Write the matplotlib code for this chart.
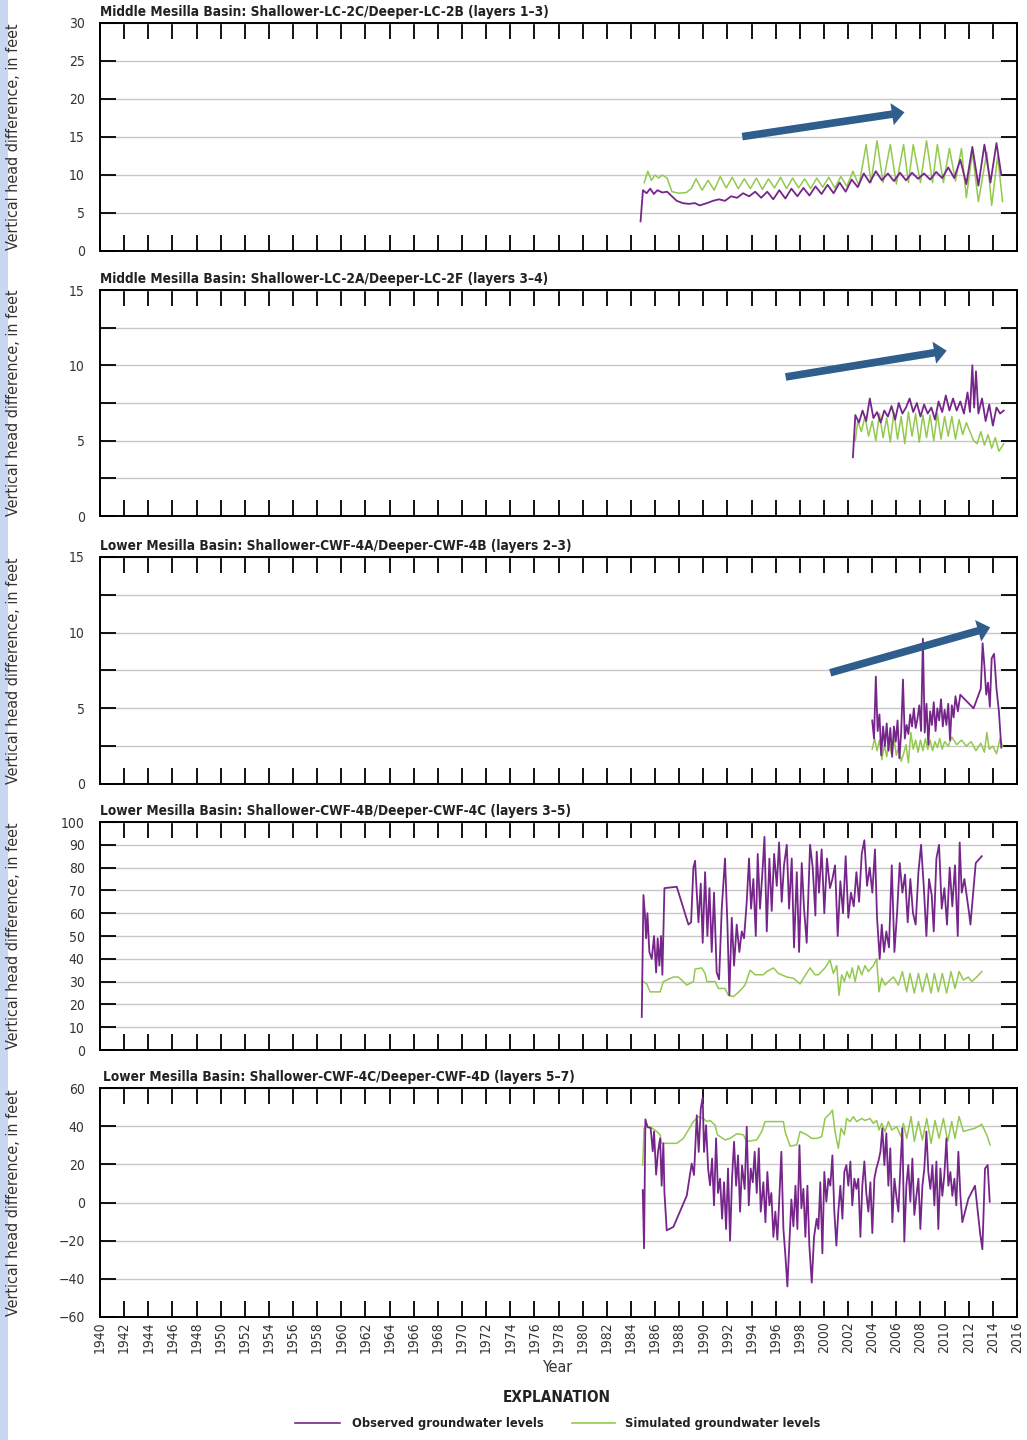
import matplotlib
matplotlib.use("Agg")
import matplotlib.pyplot as plt
from matplotlib.patches import Rectangle
import numpy as np

plt.rcParams['font.family'] = ['DejaVu Sans']
plt.rcParams['font.stretch'] = 'condensed'

OBS_COLOR = '#76268a'
SIM_COLOR = '#93c94e'
ARROW_COLOR = '#2f5d8c'

year_ticks = list(range(1940, 2017, 2))

# ---- panel 1: Middle Mesilla LC-2C / LC-2B
p1_title = "Middle Mesilla Basin: Shallower-LC-2C/Deeper-LC-2B (layers 1\u20133)"
p1_obs_years = [1984.8, 1985.0, 1985.3, 1985.6, 1985.9, 1986.2, 1986.6, 1987.0, 1987.4, 1987.8,
                1988.3, 1988.8, 1989.3, 1989.7, 1990.3, 1990.8, 1991.3, 1991.8, 1992.3, 1992.8,
                1993.3, 1993.8, 1994.3, 1994.8, 1995.3, 1995.8, 1996.3, 1996.8, 1997.3, 1997.8,
                1998.3, 1998.8, 1999.3, 1999.8, 2000.3, 2000.8, 2001.3, 2001.8, 2002.3, 2002.8,
                2003.3, 2003.8, 2004.3, 2004.8, 2005.3, 2005.8, 2006.3, 2006.8, 2007.3, 2007.8,
                2008.3, 2008.8, 2009.3, 2009.8, 2010.3, 2010.8, 2011.3, 2011.8, 2012.3, 2012.8,
                2013.3, 2013.8, 2014.3, 2014.7]
p1_obs_vals = [3.9, 8.0, 7.6, 8.2, 7.5, 8.0, 7.7, 7.8, 7.2, 6.6,
               6.3, 6.2, 6.3, 6.0, 6.3, 6.6, 6.8, 6.6, 7.2, 7.0,
               7.6, 7.2, 7.8, 7.0, 7.8, 6.8, 8.0, 6.9, 8.2, 7.2,
               8.3, 7.3, 8.5, 7.5, 8.7, 7.6, 9.0, 7.8, 9.4, 8.4,
               10.2, 9.0, 10.5, 9.3, 10.2, 9.2, 10.3, 9.3, 10.3, 9.5,
               10.2, 9.4, 10.4, 9.6, 11.0, 9.6, 12.0, 8.8, 13.7, 8.6,
               14.0, 9.0, 14.2, 10.0]
p1_sim_years = [1985.1, 1985.4, 1985.7, 1986.0, 1986.3, 1986.6, 1987.0, 1987.4, 1988.0, 1988.6,
                1989.0, 1989.4, 1989.9, 1990.4, 1990.9, 1991.4, 1991.9, 1992.4, 1992.9, 1993.4,
                1993.9, 1994.4, 1994.9, 1995.4, 1995.9, 1996.4, 1996.9, 1997.4, 1997.9, 1998.4,
                1998.9, 1999.4, 1999.9, 2000.4, 2000.9, 2001.4, 2001.9, 2002.4, 2002.9, 2003.5,
                2003.9, 2004.4, 2004.9, 2005.5, 2006.0, 2006.6, 2007.0, 2007.4, 2008.0, 2008.5,
                2009.0, 2009.4, 2009.9, 2010.4, 2010.9, 2011.4, 2011.8, 2012.3, 2012.8, 2013.5,
                2013.9, 2014.4, 2014.8]
p1_sim_vals = [9.0, 10.5, 9.3, 10.0, 9.6, 10.0, 9.6, 7.8, 7.6, 7.7,
               8.2, 9.5, 8.0, 9.3, 8.0, 9.8, 8.3, 9.7, 8.2, 9.5,
               8.2, 9.6, 8.1, 9.5, 8.3, 9.7, 8.2, 9.6, 8.3, 9.5,
               8.2, 9.6, 8.4, 9.7, 8.3, 9.8, 8.5, 10.5, 8.6, 14.0,
               9.0, 14.5, 9.0, 14.0, 8.8, 14.0, 9.0, 14.0, 9.0, 14.5,
               9.0, 14.0, 9.0, 13.5, 9.2, 13.5, 7.0, 13.0, 6.5, 13.0,
               6.0, 12.5, 6.5]

# ---- panel 2: Middle Mesilla LC-2A / LC-2F
p2_title = "Middle Mesilla Basin: Shallower-LC-2A/Deeper-LC-2F (layers 3\u20134)"
p2_obs_years = [2002.4, 2002.6, 2002.9, 2003.2, 2003.5, 2003.8, 2004.1, 2004.4, 2004.7, 2005.0,
                2005.3, 2005.6, 2005.9, 2006.2, 2006.5, 2006.8, 2007.1, 2007.4, 2007.7, 2008.0,
                2008.3, 2008.6, 2008.9, 2009.2, 2009.5, 2009.8, 2010.1, 2010.4, 2010.7, 2011.0,
                2011.3, 2011.6, 2011.9, 2012.1, 2012.3, 2012.45, 2012.6, 2012.8, 2013.1, 2013.4,
                2013.7, 2014.0, 2014.3, 2014.6, 2014.9]
p2_obs_vals = [3.9, 6.7, 6.2, 7.0, 6.3, 7.8, 6.5, 6.9, 6.2, 7.0,
               6.6, 7.3, 6.4, 7.5, 6.8, 7.2, 7.8, 6.9, 7.5, 6.6,
               7.4, 6.8, 7.2, 6.4, 7.6, 6.9, 8.0, 7.0, 7.8, 7.0,
               7.6, 6.8, 8.2, 6.9, 10.0, 7.2, 9.6, 6.8, 7.8, 6.3,
               7.4, 6.0, 7.2, 6.8, 7.0]
p2_sim_years = [2002.6, 2002.8, 2003.1, 2003.4, 2003.7, 2004.0, 2004.3, 2004.6, 2004.9, 2005.2,
                2005.5, 2005.8, 2006.1, 2006.4, 2006.7, 2007.0, 2007.3, 2007.6, 2007.9, 2008.2,
                2008.5, 2008.8, 2009.1, 2009.4, 2009.7, 2010.0, 2010.3, 2010.6, 2010.9, 2011.2,
                2011.5, 2011.8, 2012.1, 2012.4, 2012.7, 2013.0, 2013.3, 2013.6, 2013.9, 2014.2,
                2014.5, 2014.9]
p2_sim_vals = [5.0, 6.3, 5.6, 6.6, 5.3, 6.3, 5.0, 6.8, 5.2, 6.5,
               4.9, 6.9, 5.1, 6.6, 4.8, 6.9, 5.3, 6.8, 4.9, 6.7,
               5.2, 6.7, 5.0, 6.8, 5.1, 6.6, 5.3, 6.6, 5.1, 6.4,
               5.4, 6.2, 5.6, 5.0, 4.8, 5.6, 4.7, 5.4, 4.5, 5.2,
               4.3, 4.8]

# ---- panel 3: Lower Mesilla CWF-4A / CWF-4B
p3_title = "Lower Mesilla Basin: Shallower-CWF-4A/Deeper-CWF-4B (layers 2\u20133)"
p3_obs_years = [2004.0, 2004.15, 2004.3, 2004.45, 2004.6, 2004.75, 2004.9, 2005.05, 2005.2, 2005.35,
                2005.5, 2005.65, 2005.8, 2005.95, 2006.1, 2006.25, 2006.4, 2006.55, 2006.7, 2006.85,
                2007.0, 2007.15, 2007.3, 2007.45, 2007.6, 2007.75, 2007.9, 2008.05, 2008.2, 2008.35,
                2008.5, 2008.65, 2008.8, 2008.95, 2009.1, 2009.25, 2009.4, 2009.55, 2009.7, 2009.85,
                2010.0, 2010.15, 2010.3, 2010.45, 2010.6, 2010.75, 2010.9, 2011.1, 2011.3, 2012.4,
                2013.0, 2013.15, 2013.3, 2013.45, 2013.6, 2013.75, 2013.9, 2014.1, 2014.3, 2014.5,
                2014.7]
p3_obs_vals = [4.2, 3.0, 7.1, 3.5, 4.6, 1.9, 3.8, 2.5, 4.0, 2.2,
               3.7, 1.8, 3.8, 2.8, 4.2, 1.7, 3.4, 6.9, 3.0, 3.9,
               3.3, 4.6, 3.8, 5.0, 3.7, 4.3, 5.2, 3.5, 9.6, 3.4,
               5.3, 2.6, 4.8, 3.9, 5.4, 3.5, 5.0, 4.2, 5.6, 3.8,
               4.9, 3.9, 5.3, 2.9, 5.2, 4.4, 5.8, 4.8, 5.9, 5.0,
               6.3, 9.3, 7.8, 5.9, 6.7, 5.1, 8.3, 8.6, 6.3, 4.8,
               2.4]
p3_sim_years = [2004.0, 2004.2, 2004.4, 2004.6, 2004.8, 2005.0, 2005.2, 2005.4, 2005.6, 2005.8,
                2006.0, 2006.2, 2006.4, 2006.6, 2006.8, 2007.0, 2007.2, 2007.4, 2007.6, 2007.8,
                2008.0, 2008.2, 2008.4, 2008.6, 2008.8, 2009.0, 2009.2, 2009.4, 2009.6, 2009.8,
                2010.0, 2010.3, 2010.6, 2011.0, 2011.4, 2011.8, 2012.2, 2012.6, 2013.0, 2013.3,
                2013.5, 2013.7, 2014.0, 2014.3, 2014.6, 2014.8]
p3_sim_vals = [2.3, 3.0, 2.2, 2.9, 1.6, 2.6, 1.8, 2.9, 2.0, 3.0,
               1.9, 2.5, 1.5, 2.0, 2.6, 1.4, 3.4, 2.3, 2.9, 2.1,
               2.9, 2.2, 3.0, 2.3, 2.9, 2.2, 2.8, 2.4, 3.0, 2.3,
               2.8, 2.5, 3.1, 2.6, 2.9, 2.5, 2.8, 2.2, 2.7, 2.1,
               3.4, 2.3, 2.5, 2.0, 3.0, 2.5]

# ---- panel 4: Lower Mesilla CWF-4B / CWF-4C
p4_title = "Lower Mesilla Basin: Shallower-CWF-4B/Deeper-CWF-4C (layers 3\u20135)"
p4_obs_years = [1984.90, 1985.04, 1985.17, 1985.26, 1985.37, 1985.53, 1985.73, 1985.92, 1986.09, 1986.22,
                1986.36, 1986.50, 1986.61, 1986.78, 1987.80, 1988.77, 1988.99, 1989.18, 1989.32, 1989.46,
                1989.60, 1989.79, 1989.95, 1990.15, 1990.34, 1990.51, 1990.70, 1990.89, 1991.11, 1991.31,
                1991.53, 1991.80, 1992.00, 1992.16, 1992.36, 1992.55, 1992.77, 1992.99, 1993.19, 1993.38,
                1993.60, 1993.79, 1993.96, 1994.15, 1994.35, 1994.51, 1994.70, 1994.90, 1995.07, 1995.26,
                1995.48, 1995.67, 1995.87, 1996.09, 1996.28, 1996.50, 1996.69, 1996.92, 1997.11, 1997.33,
                1997.52, 1997.75, 1997.94, 1998.16, 1998.35, 1998.57, 1998.85, 1999.07, 1999.29, 1999.40,
                1999.59, 1999.81, 2000.03, 2000.25, 2000.50, 2000.70, 2000.92, 2001.14, 2001.36, 2001.58,
                2001.80, 2002.02, 2002.24, 2002.47, 2002.69, 2002.91, 2003.13, 2003.35, 2003.57, 2003.79,
                2004.01, 2004.23, 2004.40, 2004.62, 2004.79, 2004.98, 2005.17, 2005.39, 2005.62, 2005.84,
                2006.06, 2006.28, 2006.50, 2006.72, 2006.94, 2007.16, 2007.38, 2007.60, 2007.83, 2008.05,
                2008.27, 2008.49, 2008.71, 2008.93, 2009.10, 2009.32, 2009.54, 2009.76, 2009.98, 2010.20,
                2010.42, 2010.64, 2010.86, 2011.09, 2011.25, 2011.42, 2011.64, 2012.03, 2012.14, 2012.58,
                2013.08]
p4_obs_vals = [14.5, 68, 59, 49, 60, 43, 40, 50, 34, 49,
               37, 50, 33, 71, 71.6, 55, 56, 80, 83, 69,
               56, 73, 47, 78, 50, 71, 43, 69, 34, 31,
               62, 84, 55, 24, 58, 37, 55, 43, 52, 49,
               65, 84, 62, 75, 50, 86, 62, 78, 93.5, 52,
               84, 61, 86, 72, 91, 65, 81, 90, 62, 84,
               45, 78, 43, 82, 62, 47, 90, 80, 59, 87,
               69, 88, 60, 84, 71, 75, 81, 50, 74, 60,
               85, 58, 69, 63, 78, 65, 86, 92, 72, 80,
               69, 88, 58, 40, 55, 43, 52, 45, 81, 43,
               60, 82, 69, 77, 56, 75, 60, 55, 78, 90,
               72, 50, 75, 68, 52, 84, 90, 62, 71, 55,
               80, 63, 81, 50, 91, 69, 75, 60, 55, 82,
               85]
p4_sim_years = [1984.90, 1985.04, 1985.31, 1985.59, 1986.42, 1986.69, 1987.52, 1987.94, 1988.63, 1989.18,
                1989.32, 1989.87, 1990.15, 1990.29, 1990.98, 1991.25, 1991.80, 1992.08, 1992.50, 1993.05,
                1993.46, 1993.88, 1994.29, 1994.98, 1995.26, 1995.81, 1996.22, 1996.92, 1997.47, 1998.02,
                1998.30, 1998.85, 1999.26, 1999.54, 2000.09, 2000.50, 2000.78, 2001.06, 2001.25, 2001.47,
                2001.69, 2001.91, 2002.13, 2002.35, 2002.58, 2002.85, 2003.13, 2003.40, 2003.68, 2004.09,
                2004.37, 2004.56, 2004.79, 2005.06, 2005.34, 2005.75, 2006.17, 2006.50, 2006.86, 2007.13,
                2007.49, 2007.83, 2008.16, 2008.52, 2008.88, 2009.15, 2009.48, 2009.81, 2010.17, 2010.53,
                2010.86, 2011.20, 2011.56, 2011.97, 2012.25, 2012.66, 2013.08]
p4_sim_vals = [30, 30, 29, 25.5, 25.5, 30, 32, 32, 28.5, 30,
               35.5, 36, 33.6, 30, 30, 27, 27, 24, 23.4, 26,
               28.5, 35, 33, 33, 34.4, 36, 33.6, 32, 31.5, 29,
               31.5, 36, 33, 33, 36, 39.5, 33.6, 37, 24, 33,
               30, 34.4, 31.5, 36, 30, 37, 33, 37, 34.4, 37,
               40, 25.5, 31.5, 28.5, 30, 32, 28.5, 34.4, 25.5, 33.6,
               25, 33.6, 25.5, 33.6, 25, 33.6, 25.5, 33.6, 25, 34.4,
               27, 34.4, 30.7, 32, 30, 32, 34.4]

# ---- panel 5: Lower Mesilla CWF-4C / CWF-4D
p5_title = "Lower Mesilla Basin: Shallower-CWF-4C/Deeper-CWF-4D (layers 5\u20137)"
p5_obs_years = [1984.98, 1985.09, 1985.20, 1985.37, 1985.64, 1985.81, 1985.92, 1986.09, 1986.25, 1986.42,
                1986.55, 1986.69, 1986.78, 1986.97, 1987.52, 1988.63, 1989.04, 1989.23, 1989.46, 1989.62,
                1989.79, 1989.95, 1990.06, 1990.23, 1990.40, 1990.56, 1990.73, 1990.89, 1991.06, 1991.22,
                1991.39, 1991.56, 1991.72, 1991.89, 1992.05, 1992.22, 1992.38, 1992.55, 1992.72, 1992.88,
                1993.05, 1993.21, 1993.43, 1993.60, 1993.77, 1993.93, 1994.10, 1994.26, 1994.43, 1994.60,
                1994.76, 1994.98, 1995.15, 1995.31, 1995.48, 1995.64, 1995.81, 1995.97, 1996.14, 1996.31,
                1996.47, 1996.64, 1996.81, 1996.97, 1997.14, 1997.30, 1997.47, 1997.64, 1997.80, 1997.97,
                1998.13, 1998.30, 1998.46, 1998.63, 1998.79, 1998.99, 1999.18, 1999.40, 1999.54, 1999.70,
                1999.87, 2000.03, 2000.20, 2000.37, 2000.53, 2000.70, 2000.86, 2001.03, 2001.19, 2001.36,
                2001.53, 2001.69, 2001.86, 2002.02, 2002.19, 2002.35, 2002.52, 2002.69, 2002.85, 2003.02,
                2003.18, 2003.35, 2003.51, 2003.68, 2003.85, 2004.01, 2004.18, 2004.34, 2004.51, 2004.68,
                2004.84, 2005.01, 2005.17, 2005.34, 2005.50, 2005.67, 2005.84, 2006.00, 2006.17, 2006.33,
                2006.50, 2006.66, 2006.83, 2006.99, 2007.16, 2007.33, 2007.49, 2007.66, 2007.83, 2007.99,
                2008.16, 2008.32, 2008.49, 2008.65, 2008.82, 2008.99, 2009.15, 2009.32, 2009.48, 2009.65,
                2009.81, 2009.98, 2010.15, 2010.31, 2010.48, 2010.64, 2010.81, 2010.97, 2011.14, 2011.31,
                2011.47, 2011.97, 2012.52, 2012.94, 2013.13, 2013.35, 2013.57, 2013.74]
p5_obs_vals = [6.5, -24, 43.6, 39.7, 38.9, 26.8, 37.2, 14.6, 26.8, 33.6,
               8.8, 31, 5.2, -14.6, -12.8, 3.6, 20.4, 14.4, 45.7, 26.5,
               49.2, 55, 26.5, 40.5, 17.8, 9, 23, -1.5, 33.6, 5,
               12.5, -8.5, 10.6, -13.9, 17.8, -20, 12.5, 31.8, 8.8, 24.7,
               -4.8, 19.4, 7.1, 39.7, -1.5, 17.8, 10.6, 26.6, 5, 28.4,
               -4.8, 10.6, -10.3, 16, -1.5, 5, -18, -4.8, -19.5, 3.5,
               26.6, -13.9, -28.3, -44, -21, 1.6, -12.5, 8.8, -13.9, 30,
               -3, 7.1, -18, 8.8, -22.6, -42, -18, -8.5, -13.9, 10.6,
               -26.6, 16, 0.4, 12.5, 8.8, 24.7, -4.8, -22.6, -4.8, 8.8,
               -8.5, 16, 19.6, 8.8, 21.5, -1.5, 12.5, 7.1, 12.5, -18,
               8.8, 21.5, 5, -4.8, 10.6, -16, 12.5, 17.8, 21.5, 26.6,
               38.9, 19.6, 36.3, 8.8, 28.4, -10.3, 12.5, 3.5, -4.8, 17.8,
               38.9, -20.5, 8.8, 19.6, 0.4, 23, -6.5, 3.5, 12.5, -13.9,
               8.8, 17.8, 37.2, 16, 7.1, 19.6, -1.5, 21.5, -13.9, 17.8,
               3.5, 14.6, 33.6, 8.8, 16, 3.5, 12.5, -1.5, 26.6, 3.5,
               -10.3, 2, 8.8, -16, -24.5, 17.8, 19.6, 0.4]
p5_sim_years = [1984.98, 1985.09, 1985.59, 1986.14, 1986.42, 1986.55, 1987.80, 1988.35, 1989.18, 1989.59,
                1990.01, 1990.29, 1990.56, 1990.98, 1991.17, 1991.80, 1992.22, 1992.77, 1993.32, 1993.60,
                1994.43, 1994.84, 1995.12, 1996.64, 1996.78, 1997.19, 1997.75, 1998.02, 1998.57, 1998.99,
                1999.40, 1999.81, 2000.09, 2000.50, 2000.70, 2000.92, 2001.19, 2001.42, 2001.69, 2001.88,
                2002.16, 2002.44, 2002.71, 2003.13, 2003.40, 2003.82, 2004.09, 2004.37, 2004.56, 2004.79,
                2005.06, 2005.34, 2005.62, 2006.03, 2006.39, 2006.58, 2006.86, 2007.22, 2007.49, 2007.83,
                2008.16, 2008.52, 2008.88, 2009.21, 2009.54, 2009.90, 2010.26, 2010.59, 2010.86, 2011.20,
                2011.56, 2011.97, 2012.52, 2013.08, 2013.49, 2013.77]
p5_sim_vals = [19.6, 38.9, 39.7, 37.2, 35.5, 31, 31, 33.6, 42.4, 45,
               44, 42.4, 43, 40.5, 35.5, 32.8, 33.6, 36, 35.5, 32,
               32.8, 37.2, 42.4, 42.4, 37.2, 29.5, 30.2, 37.2, 35.5, 33.6,
               33.6, 34.5, 44, 46.6, 48.4, 37.2, 28.4, 38.9, 35.5, 44,
               42.4, 45, 42.4, 44, 43, 44, 41.5, 43, 38, 41.5,
               37.2, 42.4, 38, 39.7, 34.5, 41.5, 33.6, 45, 32, 42.4,
               32.8, 44, 31, 43, 33.6, 44, 32, 42.4, 33.6, 45,
               37.2, 38, 38.9, 41, 35.5, 30.2]

# y-axis settings per panel: (min, max, label step, grid step)
p1_y = (0, 30, 5, 5)
p2_y = (0, 15, 5, 2.5)
p3_y = (0, 15, 5, 2.5)
p4_y = (0, 100, 10, 10)
p5_y = (-60, 60, 20, 20)

# trend arrows (start, end) in data units
p1_arrow = ((1993.0, 15.0), (2006.9, 18.3))
p2_arrow = ((1996.6, 9.2), (2010.4, 11.0))
p3_arrow = ((2000.3, 7.3), (2014.0, 10.4))

panels = [
    (p1_title, p1_obs_years, p1_obs_vals, p1_sim_years, p1_sim_vals, p1_y, p1_arrow),
    (p2_title, p2_obs_years, p2_obs_vals, p2_sim_years, p2_sim_vals, p2_y, p2_arrow),
    (p3_title, p3_obs_years, p3_obs_vals, p3_sim_years, p3_sim_vals, p3_y, p3_arrow),
    (p4_title, p4_obs_years, p4_obs_vals, p4_sim_years, p4_sim_vals, p4_y, None),
    (p5_title, p5_obs_years, p5_obs_vals, p5_sim_years, p5_sim_vals, p5_y, None),
]

# pixel boxes (top, bottom) for the five panels in a 1027x1440 figure
W, H = 1027, 1440
boxes = [(23, 251), (290, 516), (557, 784), (822, 1050), (1088, 1317)]
left_px, right_px = 100, 1017

fig = plt.figure(figsize=(W / 100, H / 100), dpi=100)
fig.patch.set_facecolor('white')
fig.add_artist(Rectangle((0, 0), 8 / W, 1, transform=fig.transFigure,
                         facecolor='#c9d6ef', edgecolor='none'))

for i, (title, oy, ov, sy, sv, ycfg, arrow) in enumerate(panels):
    top, bot = boxes[i]
    ax = fig.add_axes([left_px / W, 1 - bot / H, (right_px - left_px) / W, (bot - top) / H])
    ymin, ymax, ystep, gstep = ycfg

    ax.plot(sy, sv, color=SIM_COLOR, lw=1.1, zorder=3)
    ax.plot(oy, ov, color=OBS_COLOR, lw=1.3, zorder=4)

    ax.set_xlim(1940, 2016)
    ax.set_ylim(ymin, ymax)
    ax.set_xticks(year_ticks)
    ax.set_yticks(np.arange(ymin, ymax + 0.01, ystep))
    ax.set_yticks(np.arange(ymin, ymax + 0.01, gstep), minor=True)
    ax.grid(axis='y', which='both', color='#c8c8c8', lw=1.0, zorder=1)
    ax.tick_params(axis='both', which='both', direction='in', length=11.5, width=1.3,
                   top=True, right=True, color='black')
    ax.tick_params(axis='y', which='major', labelsize=10, pad=11, labelcolor='#333333')
    ax.tick_params(axis='x', labelsize=10, pad=3, labelcolor='#333333')
    for s in ax.spines.values():
        s.set_linewidth(1.4)

    if i < len(panels) - 1:
        ax.set_xticklabels([])
    else:
        ax.set_xticklabels([str(y) for y in year_ticks], rotation=90)
        ax.set_xlabel("Year", fontsize=11.5, color='#333333', labelpad=5)

    # y label placed in figure pixels so that it sits next to the blue strip
    fig.text(14 / W, 1 - (top + bot) / 2 / H, "Vertical head difference, in feet",
             rotation=90, fontsize=11.5, color='#333333', ha='center', va='center')

    ax.text(0.0 if i < 4 else 0.003, 1.0 + 4 / (bot - top), title, transform=ax.transAxes,
            fontsize=9.8, fontweight='bold', color='#222222', ha='left', va='bottom')

    if arrow is not None:
        ax.annotate('', xy=arrow[1], xytext=arrow[0],
                    arrowprops=dict(arrowstyle='simple,head_length=0.9,head_width=1.6,tail_width=0.55',
                                    mutation_scale=10, color=ARROW_COLOR, lw=0),
                    zorder=6)

# explanation / legend
fig.text(557 / W, 1 - 1398 / H, "EXPLANATION", fontsize=11, fontweight='bold',
         color='#222222', ha='center', va='center')
ly = 1 - 1423 / H
fig.add_artist(plt.Line2D([295 / W, 340 / W], [ly, ly], color=OBS_COLOR, lw=1.2))
fig.text(352 / W, ly, "Observed groundwater levels", fontsize=9.2, fontweight='bold',
         color='#222222', ha='left', va='center')
fig.add_artist(plt.Line2D([572 / W, 615 / W], [ly, ly], color=SIM_COLOR, lw=1.2))
fig.text(625 / W, ly, "Simulated groundwater levels", fontsize=9.2, fontweight='bold',
         color='#222222', ha='left', va='center')

fig.savefig('out.png', dpi=100, facecolor='white')
